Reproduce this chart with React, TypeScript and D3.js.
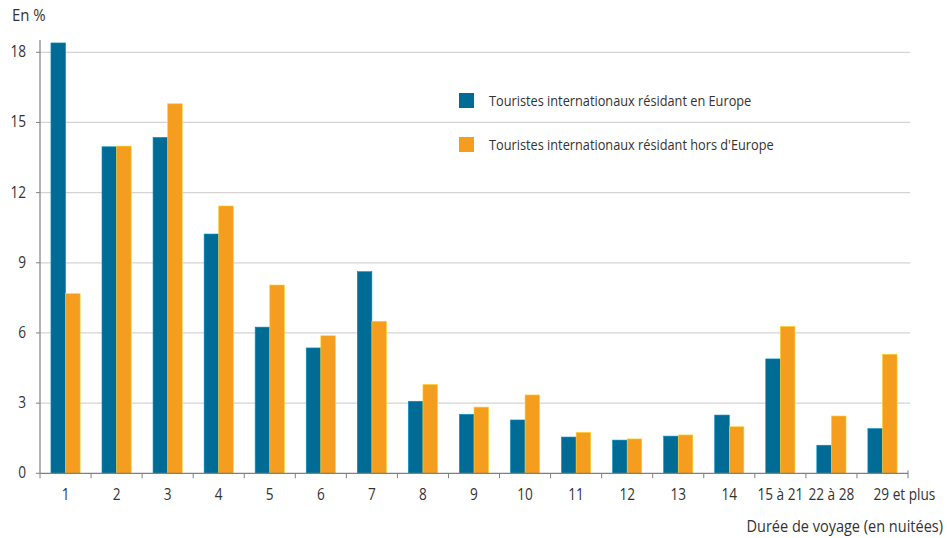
import * as d3 from "d3";

const categories = ["1", "2", "3", "4", "5", "6", "7", "8", "9", "10", "11", "12", "13", "14", "15 à 21", "22 à 28", "29 et plus"];
const europe = [18.4, 13.96, 14.36, 10.23, 6.25, 5.36, 8.62, 3.08, 2.52, 2.28, 1.55, 1.42, 1.59, 2.49, 4.89, 1.2, 1.91];
const horsEurope = [7.68, 13.99, 15.8, 11.43, 8.05, 5.88, 6.5, 3.8, 2.83, 3.35, 1.75, 1.47, 1.64, 1.99, 6.28, 2.45, 5.09];
const yTicks = [0, 3, 6, 9, 12, 15, 18];
const seriesNames = ["Touristes internationaux résidant en Europe", "Touristes internationaux résidant hors d'Europe"];

const BLUE = "#006B95";
const ORANGE = "#F59D1E";
const WIDTH = 947;
const HEIGHT = 538;
const FONT = "'Open Sans', 'Noto Sans', sans-serif";
const SQUEEZE = 0.88;

// condensed-looking text: horizontal squeeze around the anchor point
function T({ x, y, size = 15, anchor = "start", children }: { x: number; y: number; size?: number; anchor?: string; children: any }) {
  return (
    <text transform={`translate(${x},${y}) scale(${SQUEEZE},1)`} textAnchor={anchor} fontSize={size} fill="#333">
      {children}
    </text>
  );
}

export default function App() {
  const x0 = 40;
  const x1 = 908;
  const yBottom = 473.3;

  const x = d3.scaleBand().domain(categories).range([x0, x1]);
  const inner = d3.scaleBand().domain(["eu", "hors"]).range([0, x.bandwidth()]).paddingOuter(0.75).paddingInner(0);
  const y = d3.scaleLinear().domain([0, 18]).range([yBottom, 52.3]);

  const series = [
    { key: "eu", values: europe, color: BLUE },
    { key: "hors", values: horsEurope, color: ORANGE },
  ];

  return (
    <svg width={WIDTH} height={HEIGHT} style={{ position: "absolute", left: 0, top: 0, background: "#fff" }} fontFamily={FONT}>
      {/* Grid lines */}
      {yTicks.filter((t) => t > 0).map((t) => (
        <line key={"g" + t} x1={x0} x2={910} y1={y(t)} y2={y(t)} stroke="#d4d4d4" strokeWidth={1.2} />
      ))}

      {/* Y ticks */}
      {yTicks.map((t) => (
        <g key={"yt" + t}>
          <line x1={x0 - 4} x2={x0} y1={y(t)} y2={y(t)} stroke="#808080" />
          <T x={26} y={y(t) + 5} size={15.5} anchor="end">{t}</T>
        </g>
      ))}

      {/* Bars */}
      {series.map((s) =>
        categories.map((c, i) => (
          <rect
            key={s.key + c}
            x={(x(c) ?? 0) + (inner(s.key) ?? 0)}
            y={y(s.values[i])}
            width={inner.bandwidth()}
            height={yBottom - y(s.values[i])}
            fill={s.color}
            stroke={d3.color(s.color)?.brighter(0.8).toString()}
            strokeWidth={0.6}
          />
        ))
      )}

      {/* Axes */}
      <line x1={x0} x2={x0} y1={40} y2={yBottom} stroke="#808080" strokeWidth={1.2} />
      <line x1={x0} x2={x1} y1={yBottom} y2={yBottom} stroke="#808080" strokeWidth={1.2} />
      {categories.map((c) => (
        <line key={"xt" + c} x1={x(c) ?? 0} x2={x(c) ?? 0} y1={yBottom} y2={yBottom + 5} stroke="#808080" />
      ))}
      <line x1={x1} x2={x1} y1={yBottom - 3} y2={yBottom + 5} stroke="#808080" />

      {/* X labels */}
      {categories.map((c, i) => (
        <T key={"xl" + c} x={(x(c) ?? 0) + x.bandwidth() / 2 + (i === categories.length - 1 ? 22 : 0)} y={500} size={15.5} anchor="middle">
          {c}
        </T>
      ))}

      {/* Titles */}
      <T x={12} y={21} size={17}>En %</T>
      <T x={943} y={532} size={16.5} anchor="end">Durée de voyage (en nuitées)</T>

      {/* Legend */}
      {series.map((s, i) => (
        <g key={"lg" + s.key}>
          <rect x={459} y={93 + i * 44} width={15} height={15} fill={s.color} />
          <T x={489} y={106 + i * 44} size={14.5}>{seriesNames[i]}</T>
        </g>
      ))}
    </svg>
  );
}
